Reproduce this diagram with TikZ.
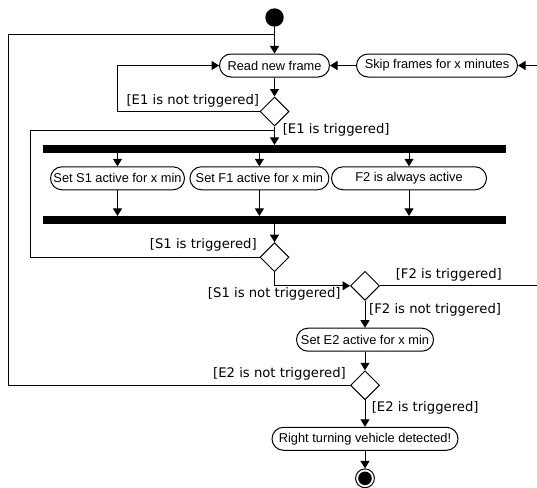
\documentclass[tikz,border=0pt]{standalone}
\usepackage{fontspec}
\setmainfont{Liberation Sans}
\newfontfamily\guardfont{DejaVu Sans}
\usetikzlibrary{shapes.geometric,arrows.meta}

\tikzset{
  act/.style={draw, line width=1pt, rounded corners=11.5pt, minimum height=23pt, inner sep=0pt, font=\fontsize{12.8}{14}\selectfont},
  bar/.style={fill=black, minimum width=463pt, minimum height=7.7pt, inner sep=0pt},
  dec/.style={draw, line width=1pt, diamond, minimum width=29pt, minimum height=29pt, inner sep=0pt},
  guard/.style={inner sep=0pt, font=\guardfont\fontsize{13.2}{15}\selectfont},
  line/.style={line width=1pt},
  flow/.style={line width=1pt, -{Triangle[length=7.5pt,width=9pt]}},
}

\begin{document}
\begin{tikzpicture}[x=1pt,y=-1pt]
\useasboundingbox (0,0) rectangle (537,487);
\clip (0,0) rectangle (537,487);
\node [circle, fill=black, minimum size=18.4pt, inner sep=0pt] (start) at (274.5,17.5) {};
\node [act, minimum width=110pt] (read) at (274.5,65.5) {Read new frame};
\node [act, minimum width=161pt] (skip) at (437,65.5) {Skip frames for x minutes};
\node [dec] (d1) at (274.5,111.5) {};
\node [bar] (bar1) at (274.4,149) {};
\node [act, minimum width=134pt] (s1) at (117.5,178.3) {Set S1 active for x min};
\node [act, minimum width=139pt] (f1) at (259.4,178.3) {Set F1 active for x min};
\node [act, minimum width=155pt] (f2) at (409,178.3) {F2 is always active};
\node [bar] (bar2) at (274.4,220) {};
\node [dec] (d2) at (274.5,257.2) {};
\node [dec] (d3) at (365,285.8) {};
\node [act, minimum width=137pt] (e2) at (365,339.7) {Set E2 active for x min};
\node [dec] (d4) at (365,385.3) {};
\node [act, minimum width=186pt] (right) at (365,438.8) {Right turning vehicle detected!};
\node [circle, draw, line width=1pt, minimum size=18.8pt, inner sep=0pt] (endc) at (365,478.3) {};
\node [circle, fill=black, minimum size=13.6pt, inner sep=0pt] (endin) at (365,478.3) {};
\node [guard, anchor=east] (g1) at (259.3,101) {[E1 is not triggered]};
\node [guard, anchor=west] (g2) at (282.6,130) {[E1 is triggered]};
\node [guard, anchor=east] (g3) at (256.9,245) {[S1 is triggered]};
\node [guard, anchor=east] (g4) at (340.8,294) {[S1 is not triggered]};
\node [guard, anchor=west] (g5) at (395.6,275) {[F2 is triggered]};
\node [guard, anchor=west] (g6) at (369,310) {[F2 is not triggered]};
\node [guard, anchor=east] (g7) at (346,374) {[E2 is not triggered]};
\node [guard, anchor=west] (g8) at (371.6,408.3) {[E2 is triggered]};
\coordinate (farL) at (8,35);
\coordinate (topJ) at (274.5,35);
\coordinate (e1L) at (117,65.5);
\coordinate (s1L) at (30.5,130.7);
\coordinate (midJ) at (274.5,130.7);
\coordinate (farR) at (560,65.5);
\draw [flow] (start) -- (read);
\draw [flow] (skip) -- (read);
\draw [flow] (read) -- (d1);
\draw [flow] (d1.west) -| (e1L) -- (read.west);
\draw [flow] (d1.south) -- (d1 |- bar1.north);
\draw [flow] (s1 |- bar1.south) -- (s1);
\draw [flow] (f1 |- bar1.south) -- (f1);
\draw [flow] (f2 |- bar1.south) -- (f2);
\draw [flow] (s1) -- (s1 |- bar2.north);
\draw [flow] (f1) -- (f1 |- bar2.north);
\draw [flow] (f2) -- (f2 |- bar2.north);
\draw [flow] (d2 |- bar2.south) -- (d2);
\draw [line] (d2.west) -| (s1L) -- (midJ);
\draw [flow] (d2.south) |- (d3.west);
\draw [flow] (d3.east) -| (farR) -- (skip.east);
\draw [flow] (d3) -- (e2);
\draw [flow] (e2) -- (d4);
\draw [line] (d4.west) -| (farL) -- (topJ);
\draw [flow] (d4) -- (right);
\draw [flow] (right) -- (endc);
\end{tikzpicture}
\end{document}
